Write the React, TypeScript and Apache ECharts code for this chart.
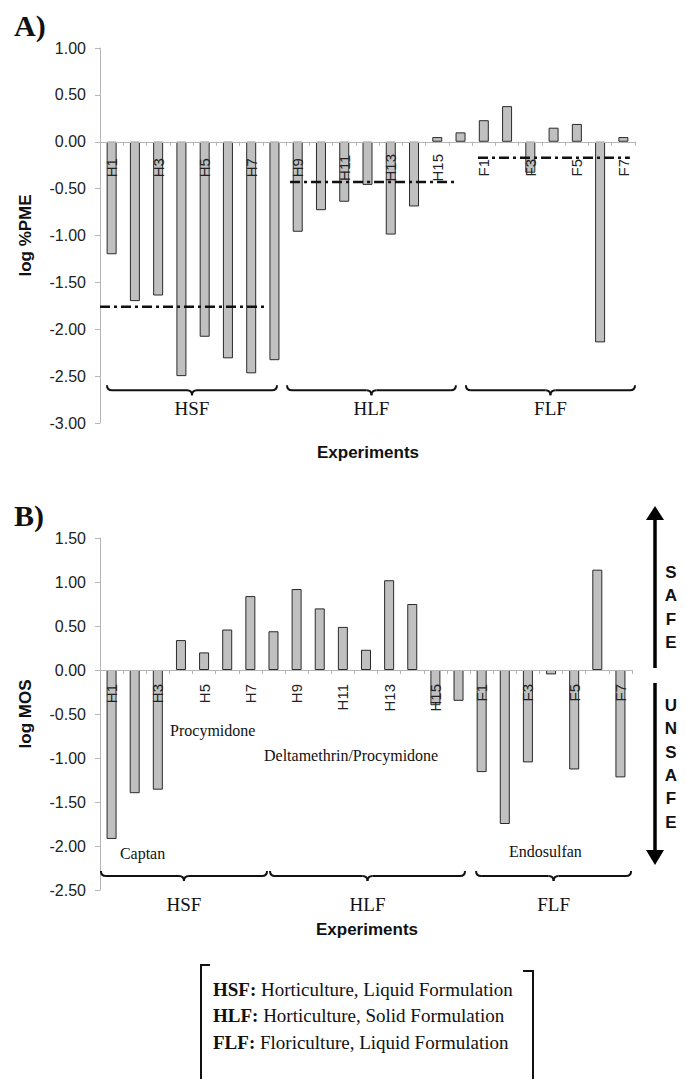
import React, { useEffect, useRef } from "react";
import * as echarts from "echarts";

const categories = [
  "H1", "H2", "H3", "H4", "H5", "H6", "H7", "H8", "H9", "H10", "H11", "H12", "H13", "H14", "H15", "H16",
  "F1", "F2", "F3", "F4", "F5", "F6", "F7",
];
// Panel A: log %PME
const pmeValues = [
  -1.2, -1.7, -1.64, -2.5, -2.08, -2.31, -2.47, -2.33,
  -0.96, -0.73, -0.64, -0.46, -0.99, -0.69, 0.05, 0.1,
  0.23, 0.38, -0.33, 0.15, 0.19, -2.14, 0.05,
];
// Panel B: log MOS
const mosValues = [
  -1.92, -1.4, -1.36, 0.34, 0.2, 0.46, 0.84, 0.44,
  0.92, 0.7, 0.49, 0.23, 1.02, 0.75, -0.4, -0.35,
  -1.16, -1.75, -1.05, -0.05, -1.13, 1.14, -1.22,
];
const groupNames = ["HSF", "HLF", "FLF"];
// group means of log %PME and the category span (index units) each mean line covers
const pmeGroupMeans = [-1.76, -0.43, -0.17];
const pmeMeanSpans = [[-0.5, 6.6], [7.67, 14.8], [15.75, 22.28]];
// category spans of the group braces
const braceSpansA = [[-0.2, 7.11], [7.54, 14.8], [15.23, 22.5]];
const braceSpansB = [[-0.46, 6.72], [6.85, 15.28], [15.76, 22.46]];
const pesticideNotes = ["Procymidone", "Deltamethrin/Procymidone", "Captan", "Endosulfan"];
const legendKeys = ["HSF:", "HLF:", "FLF:"];
const legendTexts = [
  " Horticulture, Liquid Formulation",
  " Horticulture, Solid Formulation",
  " Floriculture, Liquid Formulation",
];
const fmt2 = (v: number) => v.toFixed(2);

const SANS = "'Liberation Sans', Arial, sans-serif";
const SERIF = "'Liberation Serif', 'Times New Roman', serif";
const AXIS_GRAY = "#b5b5b5";

function txt(x: number, y: number, text: string, o: any = {}) {
  const align = o.align || "left";
  const va = o.va || "middle";
  return {
    type: "text",
    x,
    y,
    z: 50,
    silent: true,
    style: {
      text,
      fill: o.fill || "#111",
      fontSize: o.size || 16,
      fontFamily: o.family || SERIF,
      fontWeight: o.weight || "normal",
      lineHeight: o.lineHeight,
      rich: o.rich,
      align,
      textAlign: align,
      verticalAlign: va,
      textVerticalAlign: va,
    },
  };
}

export default function App() {
  const ref = useRef<HTMLDivElement>(null);
  useEffect(() => {
    const chart = echarts.init(ref.current!, null, { renderer: "svg" });

    const catAxis = (gridIndex: number, label: any) => ({
      type: "category",
      gridIndex,
      data: categories,
      position: "bottom",
      z: 5,
      axisLine: { onZero: false, lineStyle: { color: AXIS_GRAY, width: 1 } },
      axisTick: { show: true, interval: 0, length: 4, lineStyle: { color: AXIS_GRAY } },
      axisLabel: {
        interval: 1,
        rotate: 90,
        fontFamily: SANS,
        fontSize: 15,
        color: "#222",
        ...label,
      },
    });
    const valAxis = (gridIndex: number, min: number, max: number, name: string) => ({
      type: "value",
      gridIndex,
      min,
      max,
      interval: 0.5,
      name,
      nameLocation: "middle",
      nameGap: 66,
      nameTextStyle: { fontFamily: SANS, fontWeight: "bold", fontSize: 17, color: "#111" },
      axisLine: { show: true, onZero: false, lineStyle: { color: AXIS_GRAY } },
      axisTick: { show: true, length: 5, lineStyle: { color: AXIS_GRAY } },
      splitLine: { show: false },
      axisLabel: { formatter: fmt2, fontFamily: SANS, fontSize: 16, color: "#222", margin: 14 },
    });
    const barStyle = { color: "#c0c0c0", borderColor: "#2a2a2a", borderWidth: 1 };

    const grids = [
      { left: 100, top: 48, width: 535, height: 375 },
      { left: 100, top: 538, width: 532, height: 352 },
    ];

    chart.setOption({
      animation: false,
      backgroundColor: "#fff",
      grid: grids,
      xAxis: [
        catAxis(0, { align: "center", verticalAlign: "middle", margin: 26 }),
        catAxis(1, { margin: 14 }),
        { type: "value", gridIndex: 0, min: -0.5, max: 22.5, show: false, axisLine: { onZero: false } },
        { type: "value", gridIndex: 1, min: -0.5, max: 22.5, show: false, axisLine: { onZero: false } },
      ],
      yAxis: [valAxis(0, -3, 1, "log %PME"), valAxis(1, -2.5, 1.5, "log MOS")],
      series: [
        { type: "bar", xAxisIndex: 0, yAxisIndex: 0, data: pmeValues, barWidth: 10, itemStyle: barStyle, z: 2 },
        { type: "bar", xAxisIndex: 1, yAxisIndex: 1, data: mosValues, barWidth: 10, itemStyle: barStyle, z: 2 },
        ...pmeGroupMeans.map((m, i) => ({
          type: "line",
          xAxisIndex: 2,
          yAxisIndex: 0,
          data: [[pmeMeanSpans[i][0], m], [pmeMeanSpans[i][1], m]],
          symbol: "none",
          silent: true,
          z: 6,
          lineStyle: { color: "#111", width: 2.5, type: [10, 4, 3, 4] },
        })),
      ],
    });

    const px = (xAxisIndex: number, u: number) => chart.convertToPixel({ xAxisIndex } as any, u) as number;
    const py = (yAxisIndex: number, v: number) => chart.convertToPixel({ yAxisIndex } as any, v) as number;

    // move the category axes (line, ticks and labels) up onto the zero line
    chart.setOption({
      xAxis: [
        { offset: py(0, 0) - (grids[0].top + grids[0].height) },
        { offset: py(1, 0) - (grids[1].top + grids[1].height) },
      ],
    });

    const g: any[] = [];
    const stroke = { stroke: "#111", lineWidth: 2, fill: null };
    const brace = (x0: number, x1: number, y: number) => {
      const h = 5;
      const cx = (x0 + x1) / 2;
      const curve = (a: number[], b: number[], c: number[]) => ({
        type: "bezierCurve",
        silent: true,
        z: 40,
        shape: { x1: a[0], y1: a[1], x2: b[0], y2: b[1], cpx1: c[0], cpy1: c[1] },
        style: stroke,
      });
      const line = (a: number, b: number) => ({
        type: "line",
        silent: true,
        z: 40,
        shape: { x1: a, y1: y, x2: b, y2: y },
        style: stroke,
      });
      g.push(curve([x0, y - h], [x0 + h, y], [x0, y]));
      g.push(line(x0 + h, cx - h));
      g.push(curve([cx - h, y], [cx, y + h], [cx, y]));
      g.push(curve([cx, y + h], [cx + h, y], [cx, y]));
      g.push(line(cx + h, x1 - h));
      g.push(curve([x1 - h, y], [x1, y - h], [x1, y]));
    };

    braceSpansA.forEach((s, i) => {
      const x0 = px(2, s[0]);
      const x1 = px(2, s[1]);
      brace(x0, x1, py(0, -2.65));
      g.push(txt((x0 + x1) / 2, py(0, -2.85), groupNames[i], { align: "center", size: 19 }));
    });
    braceSpansB.forEach((s, i) => {
      const x0 = px(3, s[0]);
      const x1 = px(3, s[1]);
      brace(x0, x1, py(1, -2.34));
      g.push(txt((x0 + x1) / 2, py(1, -2.67), groupNames[i], { align: "center", size: 19 }));
    });

    g.push(txt(14, 25, "A)", { size: 30, weight: "bold" }));
    g.push(txt(14, 515, "B)", { size: 30, weight: "bold" }));
    g.push(txt(368, 452, "Experiments", { align: "center", size: 17, weight: "bold", family: SANS }));
    g.push(txt(367, 929, "Experiments", { align: "center", size: 17, weight: "bold", family: SANS }));

    g.push(txt(px(3, 2.53), py(1, -0.69), pesticideNotes[0], { size: 16 }));
    g.push(txt(px(3, 6.59), py(1, -0.97), pesticideNotes[1], { size: 16 }));
    g.push(txt(px(3, 0.36), py(1, -2.08), pesticideNotes[2], { size: 16 }));
    g.push(txt(px(3, 17.18), py(1, -2.06), pesticideNotes[3], { size: 16 }));

    const ax = 655;
    g.push({ type: "line", silent: true, z: 40, shape: { x1: ax, y1: 668, x2: ax, y2: 516 }, style: { stroke: "#000", lineWidth: 3.5 } });
    g.push({ type: "polygon", silent: true, z: 40, shape: { points: [[ax - 9, 520], [ax + 9, 520], [ax, 506]] }, style: { fill: "#000" } });
    g.push({ type: "line", silent: true, z: 40, shape: { x1: ax, y1: 683, x2: ax, y2: 852 }, style: { stroke: "#000", lineWidth: 3.5 } });
    g.push({ type: "polygon", silent: true, z: 40, shape: { points: [[ax - 9, 850], [ax + 9, 850], [ax, 865]] }, style: { fill: "#000" } });
    g.push(txt(671, 561, "S\nA\nF\nE", { align: "center", va: "top", size: 17, weight: "bold", family: SANS, lineHeight: 23.3 }));
    g.push(txt(671, 694, "U\nN\nS\nA\nF\nE", { align: "center", va: "top", size: 17, weight: "bold", family: SANS, lineHeight: 23.3 }));

    g.push({ type: "polyline", silent: true, z: 40, shape: { points: [[210, 965], [201, 965], [201, 1080]] }, style: { stroke: "#111", lineWidth: 2, fill: null } });
    g.push({ type: "polyline", silent: true, z: 40, shape: { points: [[523, 971], [533, 971], [533, 1080]] }, style: { stroke: "#111", lineWidth: 2, fill: null } });
    legendKeys.forEach((k, i) => {
      g.push(
        txt(213, 989 + i * 26.5, `{b|${k}}${legendTexts[i]}`, {
          size: 19,
          rich: { b: { fontWeight: "bold", fontFamily: SERIF, fontSize: 19, fill: "#111" } },
        })
      );
    });

    chart.setOption({ graphic: g });
    return () => chart.dispose();
  }, []);
  return <div ref={ref} style={{ position: "absolute", left: 0, top: 0, width: 686, height: 1079 }} />;
}
